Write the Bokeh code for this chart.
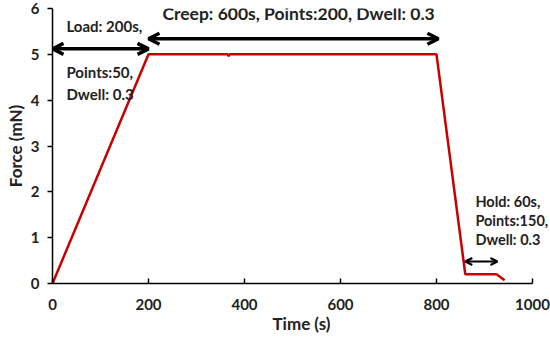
from bokeh.plotting import figure
from bokeh.models import Range1d, Arrow, OpenHead, Label
from bokeh.embed import file_html
from bokeh.resources import INLINE

# data
time_s = [0, 200, 365, 367, 369, 800, 860, 925, 942]
force_mN = [0, 5.0, 5.0, 4.96, 5.0, 5.0, 0.2, 0.2, 0.07]

arrow_x0 = [0, 200, 860]
arrow_x1 = [200, 804, 927]
arrow_y = [5.12, 5.34, 0.48]

labels = ["Load: 200s,", "Points:50,", "Dwell: 0.3",
          "Creep: 600s, Points:200, Dwell: 0.3",
          "Hold: 60s,", "Points:150,", "Dwell: 0.3"]
label_x = [29, 29, 29, 229, 881, 881, 881]
label_y = [5.62, 4.62, 4.13, 5.9, 1.8, 1.37, 0.95]
label_size = ["15px", "15px", "15px", "17.5px", "14.5px", "14.5px", "14.5px"]

FONT = "Lato"

p = figure(width=550, height=336, output_backend="svg", toolbar_location=None,
           x_range=Range1d(0, 1037.5), y_range=Range1d(0, 6),
           min_border_left=52, min_border_right=0, min_border_top=8, min_border_bottom=53)
p.outline_line_color = None
p.grid.grid_line_color = None

p.line(time_s, force_mN, line_color="#C80000", line_width=2.5)

for x0, x1, y in zip(arrow_x0, arrow_x1, arrow_y):
    big = (x1 - x0) > 100
    sz = 11 if big else 7
    lw = 3.5 if big else 2
    p.add_layout(Arrow(x_start=x0, x_end=x1, y_start=y, y_end=y, line_width=lw, line_color="black",
                       start=OpenHead(size=sz, line_width=lw, line_color="black"),
                       end=OpenHead(size=sz, line_width=lw, line_color="black")))

for t, x, y, s in zip(labels, label_x, label_y, label_size):
    p.add_layout(Label(x=x, y=y, text=t, text_font=FONT, text_font_style="bold",
                       text_font_size=s, text_color="#222222", text_baseline="middle"))

for ax in (p.xaxis, p.yaxis):
    ax.axis_line_color = "black"
    ax.axis_line_width = 1.5
    ax.major_tick_line_color = "black"
    ax.major_tick_line_width = 1.5
    ax.minor_tick_line_color = None
    ax.major_label_text_font = FONT
    ax.major_label_text_font_style = "bold"
    ax.major_label_text_font_size = "15px"
    ax.major_label_text_color = "#222222"
    ax.axis_label_text_font = FONT
    ax.axis_label_text_font_style = "bold"
    ax.axis_label_text_font_size = "17px"
    ax.axis_label_text_color = "#222222"

p.xaxis.bounds = (0, 1000)
p.xaxis.ticker = [0, 200, 400, 600, 800, 1000]
p.yaxis.ticker = [0, 1, 2, 3, 4, 5, 6]
p.xaxis.major_tick_in = 5
p.xaxis.major_tick_out = 0
p.yaxis.major_tick_in = 0
p.yaxis.major_tick_out = 5
p.xaxis.major_label_standoff = 15
p.yaxis.major_label_standoff = 8
p.xaxis.axis_label = "Time (s)"
p.yaxis.axis_label = "Force (mN)"
p.xaxis.axis_label_standoff = 0
p.yaxis.axis_label_standoff = 2

open("out.html", "w").write(file_html(p, INLINE))
